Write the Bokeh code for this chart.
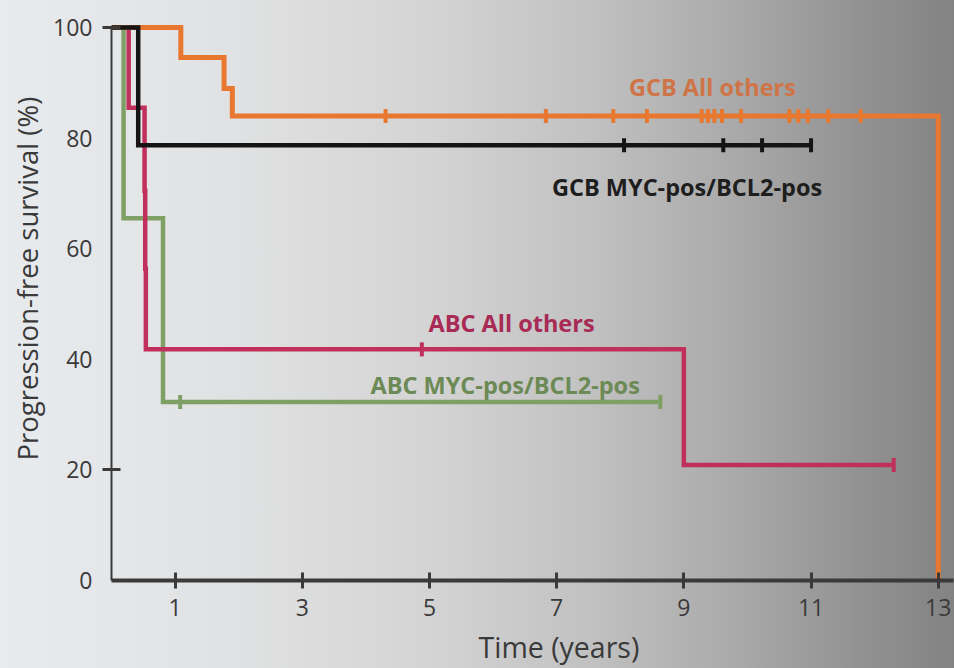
import numpy as np
from bokeh.plotting import figure
from bokeh.models import FixedTicker, Range1d, Title
from bokeh.core.properties import value
from bokeh.embed import file_html
from bokeh.resources import INLINE

# Kaplan-Meier step curves: time (years) and progression-free survival (%)
gcb_other_t = [0, 1.09, 1.77, 1.90, 13.0]
gcb_other_s = [100, 94.6, 89.0, 84.0, 0]
gcb_other_cens = [4.31, 6.83, 7.89, 8.42, 9.28, 9.38, 9.48, 9.60, 9.90,
                  10.66, 10.80, 10.95, 11.27, 11.78]

gcb_dh_t = [0, 0.42, 11.0]
gcb_dh_s = [100, 78.7, 78.7]
gcb_dh_cens = [8.06, 9.62, 10.23, 11.0]

abc_other_t = [0, 0.27, 0.52, 0.53, 0.54, 9.0, 12.3]
abc_other_s = [100, 85.5, 70.5, 56.4, 41.8, 20.9, 20.9]
abc_other_cens_t = [4.88, 12.3]
abc_other_cens_s = [41.8, 20.9]

abc_dh_t = [0, 0.19, 0.81, 8.63]
abc_dh_s = [100, 65.5, 32.3, 32.3]
abc_dh_cens = [1.08, 8.63]

x_ticks = [1, 3, 5, 7, 9, 11, 13]
y_ticks = [0, 20, 40, 60, 80, 100]
y_marked = [20, 100]

ORANGE = "#e8772f"
BLACK = "#141414"
CRIMSON = "#c1305c"
GREEN = "#7fa064"
AXIS = "#3a3a3a"
FONT = "Open Sans"

p = figure(frame_width=842, frame_height=564,
           x_range=Range1d(0, 13.24), y_range=Range1d(0, 102),
           min_border_left=111, min_border_right=1,
           min_border_top=16, min_border_bottom=88,
           output_backend="svg", toolbar_location=None)

# transparent canvas so the page gradient shows through
p.border_fill_alpha = 0
p.background_fill_alpha = 0
p.outline_line_color = None
p.grid.visible = False
p.styles = {"background-image": "linear-gradient(to right, #e8ebee 0%, #e0e1e2 25%, "
            "#d4d4d4 45%, #c1c1c1 62%, #a8a8a8 78%, #929292 90%, #838383 100%)"}


def km(t, s, color, width):
    p.step(t, s, mode="after", line_color=color, line_width=width,
           line_join="miter")


def censor(t, s, color):
    p.scatter(t, s, marker="dash", angle=np.pi / 2, size=14,
              line_color=color, line_width=4)


km(abc_dh_t, abc_dh_s, GREEN, 4.5)
censor(abc_dh_cens, [abc_dh_s[-1]] * len(abc_dh_cens), GREEN)

km(abc_other_t, abc_other_s, CRIMSON, 4.5)
censor(abc_other_cens_t, abc_other_cens_s, CRIMSON)

km(gcb_other_t, gcb_other_s, ORANGE, 5)
censor(gcb_other_cens, [gcb_other_s[3]] * len(gcb_other_cens), ORANGE)

km(gcb_dh_t, gcb_dh_s, BLACK, 4.5)
censor(gcb_dh_cens, [gcb_dh_s[-1]] * len(gcb_dh_cens), BLACK)

# curve labels
labels = [
    ("GCB All others", 9.45, 89.3, "#cf7446"),
    ("GCB MYC-pos/BCL2-pos", 9.05, 71.2, "#1e1e1e"),
    ("ABC All others", 6.29, 46.5, "#a82a55"),
    ("ABC MYC-pos/BCL2-pos", 6.19, 35.3, "#6c8a55"),
]
for txt, lx, ly, col in labels:
    p.text(x=[lx], y=[ly], text=[txt], text_color=col,
           text_font=value(FONT), text_font_size="23.5px",
           text_font_style="bold",
           text_align="center", text_baseline="middle")

# x axis
xa = p.xaxis[0]
xa.ticker = FixedTicker(ticks=x_ticks)
xa.axis_line_width = 4
xa.axis_line_color = AXIS
xa.major_tick_in = 8
xa.major_tick_out = 8
xa.major_tick_line_width = 3
xa.major_tick_line_color = AXIS
xa.minor_tick_line_color = None
xa.major_label_standoff = 10
xa.major_label_text_font = FONT
xa.major_label_text_font_size = "23px"
xa.major_label_text_color = AXIS

# y axis: labels at every 20, tick marks only at 20 and 100
ya = p.yaxis[0]
ya.ticker = FixedTicker(ticks=y_ticks, minor_ticks=y_marked)
ya.bounds = (0, 100)
ya.axis_line_width = 2
ya.axis_line_color = AXIS
ya.major_tick_in = 0
ya.major_tick_out = 0
ya.minor_tick_in = 9
ya.minor_tick_out = 9
ya.minor_tick_line_width = 3
ya.minor_tick_line_color = AXIS
ya.major_label_standoff = 10
ya.major_label_text_font = FONT
ya.major_label_text_font_size = "23px"
ya.major_label_text_color = AXIS

# axis titles as side-panel titles so they can sit off-centre
p.add_layout(Title(text="Time (years)", align="left", offset=367, standoff=14,
                   text_font=FONT, text_font_size="28.5px",
                   text_font_style="normal", text_color=AXIS), "below")
p.add_layout(Title(text="Progression-free survival (%)", align="left",
                   offset=120, standoff=10,
                   text_font=FONT, text_font_size="27.5px",
                   text_font_style="normal", text_color=AXIS), "left")

open("out.html", "w").write(file_html(p, INLINE))
